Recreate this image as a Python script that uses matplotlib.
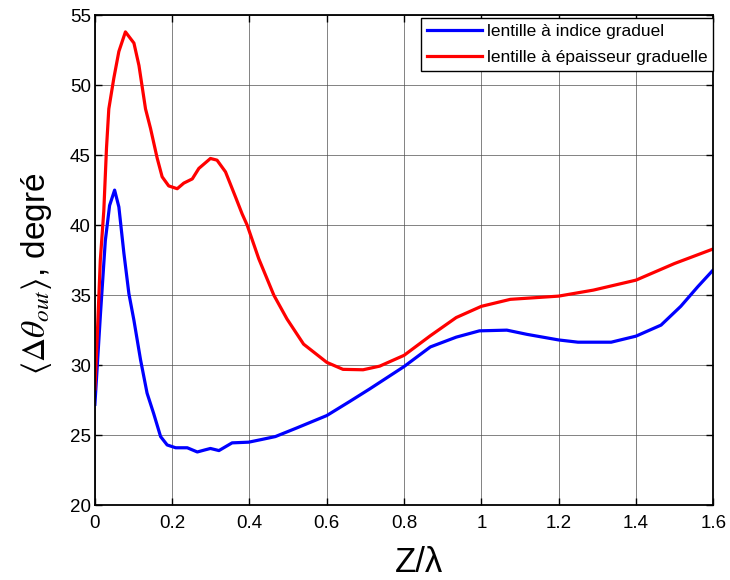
import matplotlib
matplotlib.use('Agg')
import matplotlib.pyplot as plt

# values
z_indice = [0, 0.0145, 0.027, 0.038, 0.051, 0.062, 0.075, 0.088, 0.101, 0.118,
            0.135, 0.152, 0.170, 0.187, 0.209, 0.239, 0.265, 0.285, 0.299, 0.321,
            0.355, 0.398, 0.433, 0.467, 0.521, 0.60, 0.659, 0.711, 0.80, 0.868,
            0.935, 0.995, 1.066, 1.118, 1.20, 1.25, 1.336, 1.40, 1.465, 1.516,
            1.56, 1.60]
theta_indice = [27.2, 33.7, 38.9, 41.4, 42.5, 41.3, 38.0, 35.1, 33.2, 30.4,
                28.0, 26.55, 24.9, 24.3, 24.1, 24.1, 23.8, 23.95, 24.05, 23.9,
                24.45, 24.5, 24.7, 24.9, 25.5, 26.4, 27.4, 28.3, 29.9, 31.3,
                32.0, 32.45, 32.5, 32.2, 31.8, 31.64, 31.64, 32.07, 32.86, 34.2,
                35.6, 36.8]

z_epaisseur = [0, 0.006, 0.014, 0.023, 0.030, 0.036, 0.049, 0.062, 0.079, 0.101,
               0.114, 0.131, 0.144, 0.161, 0.174, 0.191, 0.213, 0.23, 0.252, 0.269,
               0.299, 0.316, 0.338, 0.364, 0.381, 0.394, 0.424, 0.463, 0.497, 0.54,
               0.60, 0.642, 0.694, 0.737, 0.80, 0.868, 0.935, 1.0, 1.075, 1.2,
               1.29, 1.4, 1.5, 1.6]
theta_epaisseur = [28.3, 32.0, 37.5, 41.0, 45.5, 48.3, 50.5, 52.4, 53.8, 53.0,
                   51.4, 48.3, 46.9, 44.8, 43.45, 42.8, 42.6, 43.0, 43.3, 44.05,
                   44.76, 44.64, 43.8, 42.0, 40.8, 40.0, 37.6, 35.0, 33.3, 31.5,
                   30.2, 29.7, 29.67, 29.93, 30.7, 32.1, 33.4, 34.2, 34.7, 34.93,
                   35.36, 36.07, 37.26, 38.3]

x_ticks = [0, 0.2, 0.4, 0.6, 0.8, 1, 1.2, 1.4, 1.6]
x_tick_labels = ['0', '0.2', '0.4', '0.6', '0.8', '1', '1.2', '1.4', '1.6']
y_ticks = [20, 25, 30, 35, 40, 45, 50, 55]

plt.rcParams['font.family'] = ['Liberation Sans', 'DejaVu Sans']
plt.rcParams['mathtext.fontset'] = 'stix'

fig = plt.figure(figsize=(7.3, 5.8), dpi=100)
ax = fig.add_axes([0.130, 0.129, 0.847, 0.845])

ax.plot(z_indice, theta_indice, color='#0000ff', linewidth=2.3,
        label='lentille à indice graduel')
ax.plot(z_epaisseur, theta_epaisseur, color='#ff0000', linewidth=2.3,
        label='lentille à épaisseur graduelle')

ax.set_xlim(0, 1.6)
ax.set_ylim(20, 55)
ax.set_xticks(x_ticks)
ax.set_xticklabels(x_tick_labels)
ax.set_yticks(y_ticks)
ax.tick_params(direction='in', length=5, width=1, labelsize=13.5,
               top=True, right=True, colors='black')
ax.tick_params(axis='x', pad=7)
ax.tick_params(axis='y', pad=3)
for sp in ax.spines.values():
    sp.set_linewidth(1.3)
ax.grid(True, color='0.3', linewidth=0.7, alpha=0.7)

ax.set_xlabel('Z/λ', fontsize=25)
ax.xaxis.set_label_coords(0.524, -0.083)
ax.set_ylabel(r'$\langle \mathit{\Delta}\theta_{out} \rangle$, degré',
              fontsize=24)
ax.yaxis.set_label_coords(-0.066, 0.472)

leg = ax.legend(loc='upper right', bbox_to_anchor=(1.0, 0.994),
                fontsize=12.5, borderaxespad=0,
                fancybox=False, edgecolor='black', framealpha=1,
                handlelength=3.2, handletextpad=0.25, labelspacing=0.6,
                borderpad=0.35)
leg.get_frame().set_linewidth(1.0)

fig.savefig('out.png', dpi=100)
plt.close(fig)
